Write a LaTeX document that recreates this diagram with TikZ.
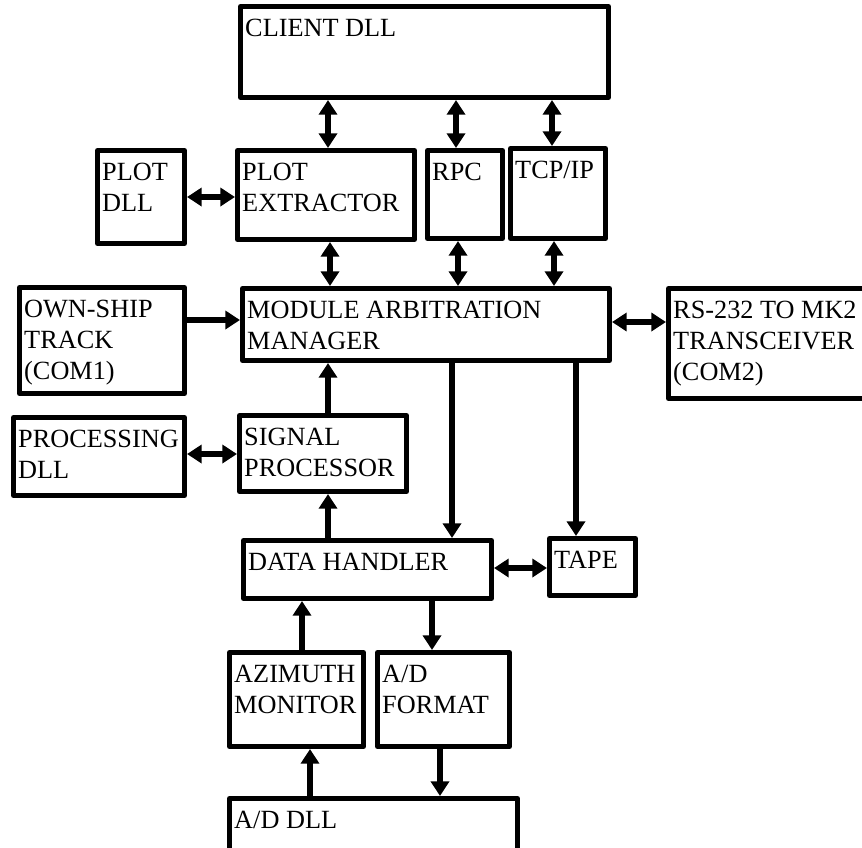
\documentclass[tikz,border=0pt]{standalone}
\usepackage{fontspec}
\setmainfont{Liberation Serif}
\usetikzlibrary{arrows.meta,fit}
\newcommand\lnstrut{\rule{0pt}{16pt}}
\tikzset{
  x=0.75pt, y=-0.75pt,
  box/.style={draw, line width=3.8pt, line join=round, inner sep=0pt, fill=none},
  txt/.style={anchor=north west, inner sep=0pt, align=left, font=\fontsize{19.7}{23.25}\selectfont},
  tipa/.tip={Triangle[length=11pt,width=13.5pt]},
  arr/.style={line width=3.8pt, -tipa},
  dbl/.style={line width=3.8pt, tipa-tipa},
}
\begin{document}
\begin{tikzpicture}
\useasboundingbox (0,0) rectangle (862,847);
\clip (0,0) rectangle (862,847);
% boxes
\node[box, fit={(240.5,6.5) (608.5,97.5)}] (client) {};
\node[box, fit={(97.5,150.5) (184.5,243.5)}] (plotdll) {};
\node[box, fit={(237.5,150.5) (414.5,239.5)}] (plotex) {};
\node[box, fit={(427.5,150.5) (502.5,238.5)}] (rpc) {};
\node[box, fit={(510.5,148.5) (605.5,238.5)}] (tcp) {};
\node[box, fit={(242.5,288.5) (609.5,360.5)}] (mam) {};
\node[box, fit={(19.5,287.5) (184.5,393.5)}] (own) {};
\node[box, fit={(668.5,288.5) (880,398.5)}] (rs) {};
\node[box, fit={(13.5,417.5) (184.5,495.5)}] (proc) {};
\node[box, fit={(239.5,415.5) (406.5,491.5)}] (sig) {};
\node[box, fit={(243.5,540.5) (491.5,598.5)}] (dh) {};
\node[box, fit={(549.5,538.5) (635.5,595.5)}] (tape) {};
\node[box, fit={(229.5,652.5) (363.5,746.5)}] (az) {};
\node[box, fit={(377.5,652.5) (509.5,746.5)}] (adf) {};
\node[box, fit={(229.5,798.5) (517.5,870)}] (addll) {};
% texts
\node[txt] (t-client) at ([shift={(7,11)}]client.north west) {\lnstrut CLIENT DLL};
\node[txt] (t-plotdll) at ([shift={(7,11)}]plotdll.north west) {\lnstrut PLOT\\DLL};
\node[txt] (t-plotex) at ([shift={(7,11)}]plotex.north west) {\lnstrut PLOT\\EXTRACTOR};
\node[txt] (t-rpc) at ([shift={(7,11)}]rpc.north west) {\lnstrut RPC};
\node[txt] (t-tcp) at ([shift={(7,11)}]tcp.north west) {\lnstrut TCP/IP};
\node[txt] (t-mam) at ([shift={(7,11)}]mam.north west) {\lnstrut MODULE ARBITRATION\\MANAGER};
\node[txt] (t-own) at ([shift={(7,11)}]own.north west) {\lnstrut OWN-SHIP\\TRACK\\(COM1)};
\node[txt] (t-rs) at ([shift={(7,11)}]rs.north west) {\lnstrut RS-232 TO MK2\\TRANSCEIVER\\(COM2)};
\node[txt] (t-proc) at ([shift={(7,11)}]proc.north west) {\lnstrut PROCESSING\\DLL};
\node[txt] (t-sig) at ([shift={(7,11)}]sig.north west) {\lnstrut SIGNAL\\PROCESSOR};
\node[txt] (t-dh) at ([shift={(7,11)}]dh.north west) {\lnstrut DATA HANDLER};
\node[txt] (t-tape) at ([shift={(7,11)}]tape.north west) {\lnstrut TAPE};
\node[txt] (t-az) at ([shift={(7,11)}]az.north west) {\lnstrut AZIMUTH\\MONITOR};
\node[txt] (t-adf) at ([shift={(7,11)}]adf.north west) {\lnstrut A/D\\FORMAT};
\node[txt] (t-addll) at ([shift={(7,11)}]addll.north west) {\lnstrut A/D DLL};
% connectors
\draw[dbl] (client.south -| 328,0) -- (plotex.north -| 328,0);
\draw[dbl] (client.south -| 456,0) -- (rpc.north -| 456,0);
\draw[dbl] (client.south -| 552,0) -- (tcp.north -| 552,0);
\draw[dbl] (plotex.south -| 330,0) -- (mam.north -| 330,0);
\draw[dbl] (rpc.south -| 458,0) -- (mam.north -| 458,0);
\draw[dbl] (tcp.south -| 554,0) -- (mam.north -| 554,0);
\draw[dbl] (plotdll.east |- 0,197) -- (plotex.west |- 0,197);
\draw[arr] (own.east |- 0,320) -- (mam.west |- 0,320);
\draw[dbl] (mam.east |- 0,322) -- (rs.west |- 0,322);
\draw[arr] (sig.north -| 328,0) -- (mam.south -| 328,0);
\draw[dbl] (proc.east |- 0,454) -- (sig.west |- 0,454);
\draw[arr] (dh.north -| 328,0) -- (sig.south -| 328,0);
\draw[arr] (mam.south -| 452,0) -- (dh.north -| 452,0);
\draw[arr] (mam.south -| 576,0) -- (tape.north -| 576,0);
\draw[dbl] (dh.east |- 0,568) -- (tape.west |- 0,568);
\draw[arr] (az.north -| 302,0) -- (dh.south -| 302,0);
\draw[arr] (dh.south -| 432,0) -- (adf.north -| 432,0);
\draw[arr] (addll.north -| 310,0) -- (az.south -| 310,0);
\draw[arr] (adf.south -| 440,0) -- (addll.north -| 440,0);
\end{tikzpicture}
\end{document}
